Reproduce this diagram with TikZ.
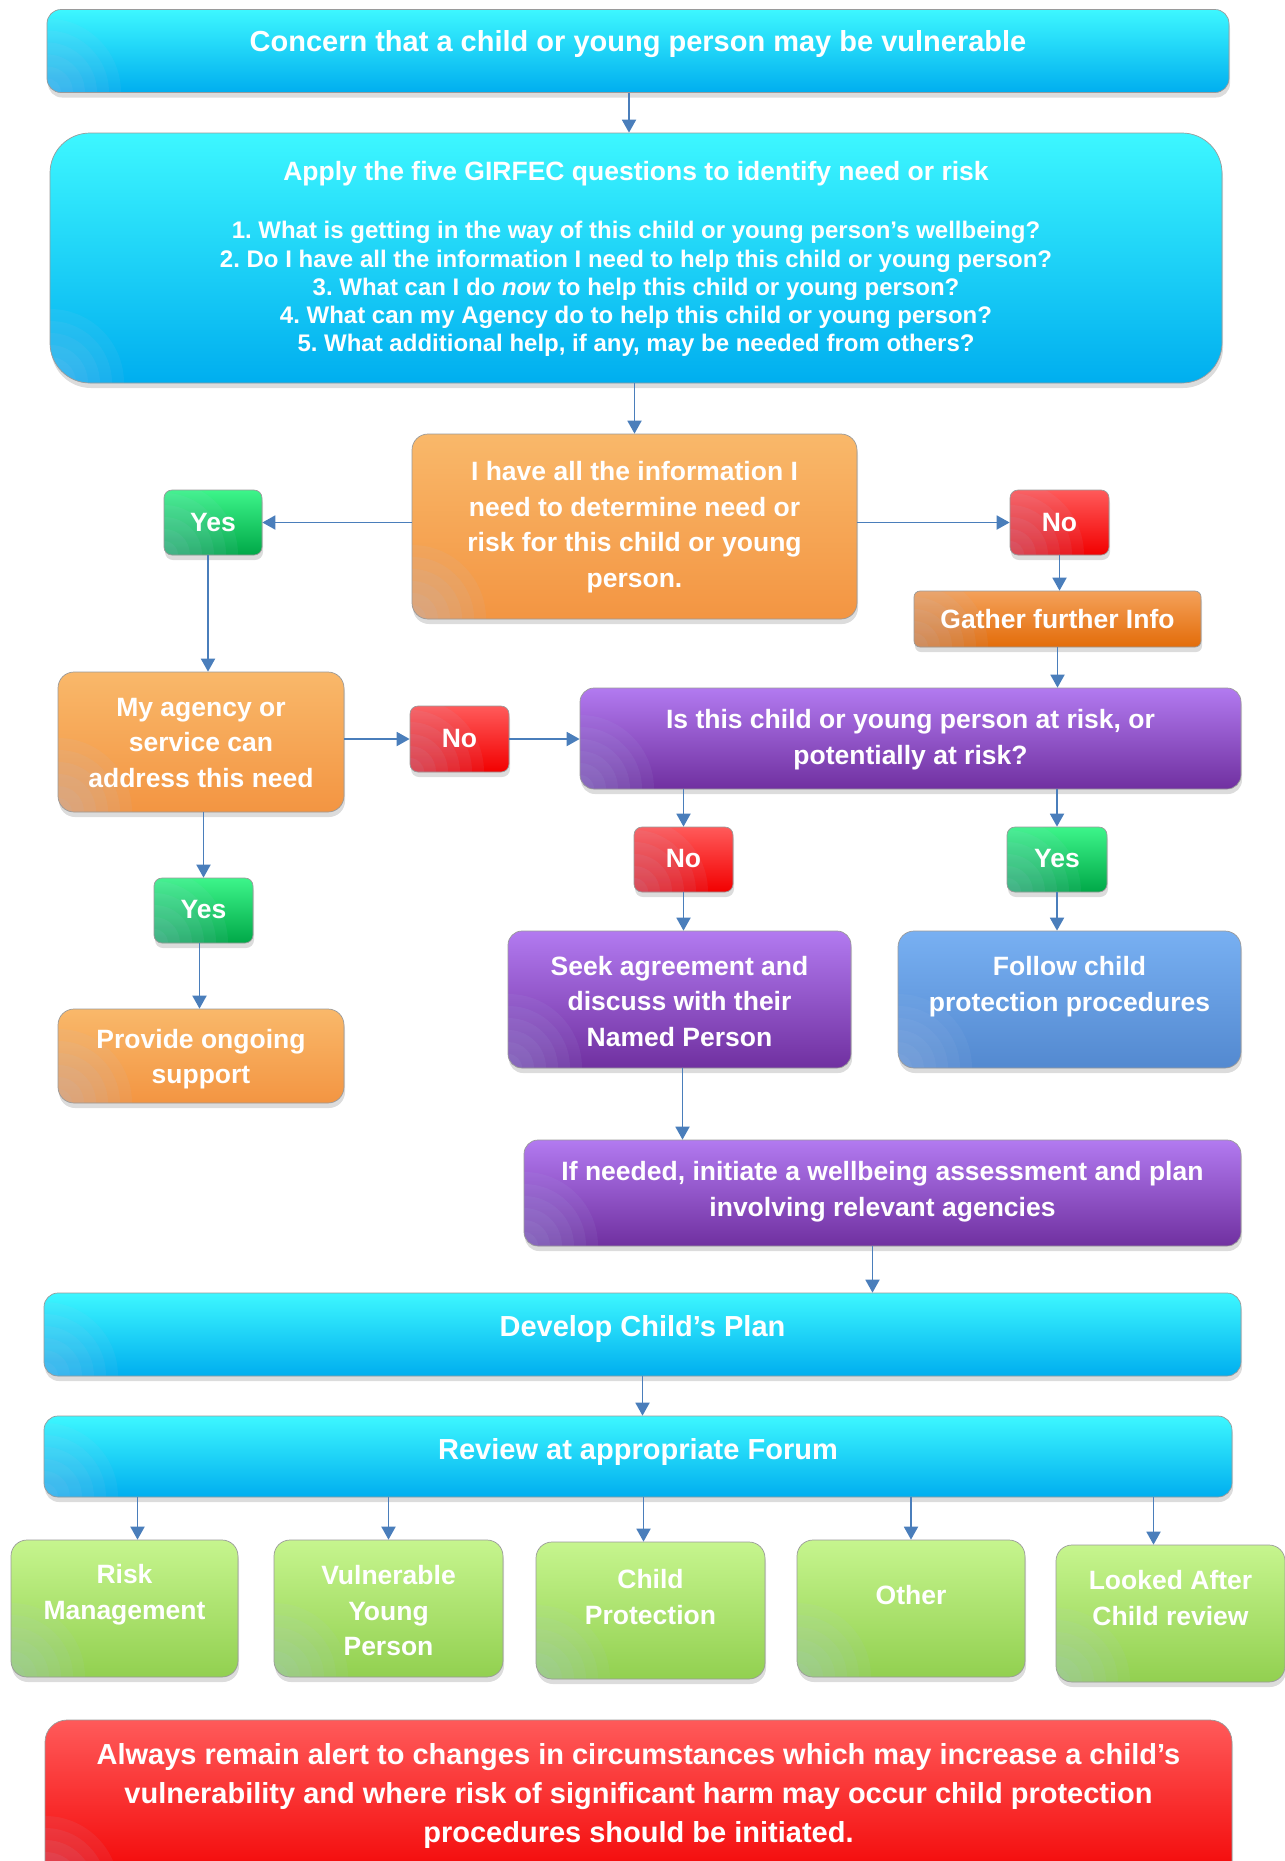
\documentclass[tikz,border=0pt]{standalone}
\usepackage{fontspec}
\setmainfont{Liberation Sans}
\usetikzlibrary{arrows.meta,shadows}
\frenchspacing
\definecolor{arrowc}{HTML}{4A7EBB}
\definecolor{cyanT}{HTML}{3DF7FF}\definecolor{cyanM}{HTML}{0DB8EE}\definecolor{cyanB}{HTML}{00AEEF}
\definecolor{orangeT}{HTML}{F9B86A}\definecolor{orangeM}{HTML}{F59D4B}\definecolor{orangeB}{HTML}{F39542}
\definecolor{gatherT}{HTML}{F4A15A}\definecolor{gatherM}{HTML}{E8730F}\definecolor{gatherB}{HTML}{E36C09}
\definecolor{redT}{HTML}{FF5A5A}\definecolor{redM}{HTML}{FF1010}\definecolor{redB}{HTML}{F20000}
\definecolor{greenT}{HTML}{3DF58A}\definecolor{greenM}{HTML}{05B652}\definecolor{greenB}{HTML}{00A848}
\definecolor{purpT}{HTML}{B27AF0}\definecolor{purpM}{HTML}{7B3AB0}\definecolor{purpB}{HTML}{7030A0}
\definecolor{blueT}{HTML}{78B0F2}\definecolor{blueM}{HTML}{5A93D8}\definecolor{blueB}{HTML}{5389D0}
\definecolor{lgreenT}{HTML}{C6F58E}\definecolor{lgreenM}{HTML}{9AD656}\definecolor{lgreenB}{HTML}{92D050}
\definecolor{cornerc}{HTML}{B4C8EE}
\definecolor{rimc}{HTML}{9A9A9A}
\tikzset{
  basebox/.style={rounded corners=#1, inner sep=0pt, draw=rimc, line width=0.7pt,
    drop shadow={opacity=0.28, shadow xshift=1pt, shadow yshift=-5pt},
    path picture={\foreach \r in {14,26,38,50,62,74}
      {\fill[cornerc, opacity=0.075] (path picture bounding box.south west) circle (\r pt);}}},
  cyanbox/.style={basebox=#1, top color=cyanT, middle color=cyanM, bottom color=cyanB},
  cyanbox/.default=14pt,
  orangebox/.style={basebox=16pt, top color=orangeT, middle color=orangeM, bottom color=orangeB},
  gatherbox/.style={basebox=6pt, top color=gatherT, middle color=gatherM, bottom color=gatherB},
  redbox/.style={basebox=#1, top color=redT, middle color=redM, bottom color=redB},
  redbox/.default=8pt,
  greenbox/.style={basebox=8pt, top color=greenT, middle color=greenM, bottom color=greenB},
  purpbox/.style={basebox=14pt, top color=purpT, middle color=purpM, bottom color=purpB},
  bluebox/.style={basebox=16pt, top color=blueT, middle color=blueM, bottom color=blueB},
  lgreenbox/.style={basebox=16pt, top color=lgreenT, middle color=lgreenM, bottom color=lgreenB},
  txt/.style={text=white, align=center, inner sep=0pt},
  fmain/.style={font=\fontsize{26.5}{35.5}\selectfont\bfseries},
  fbig/.style={font=\fontsize{29}{38.6}\selectfont\bfseries},
  flist/.style={font=\fontsize{24}{28.2}\selectfont\bfseries},
  arr/.style={draw=arrowc, line width=1.9pt, -{Triangle[length=13pt,width=14pt]}}
}
\newcommand\flowbox[9]{%
  \node[#2, minimum width=#5pt, minimum height=#6pt] (#1) at (#3,#4) {};
  \node[txt,#8] (#1t) at (#3,#7) {#9};}
\begin{document}
\begin{tikzpicture}[x=1pt,y=-1pt]
\useasboundingbox (0,0) rectangle (1285,1861);
% top
\flowbox{concern}{cyanbox}{638}{51}{1182}{83}{44.5}{fbig}{Concern that a child or young person may be vulnerable}
\node[cyanbox=40pt, minimum width=1172pt, minimum height=250pt] (girfec) at (636,258) {};
\node[txt,fmain] (girfect) at (636,174) {Apply the five GIRFEC questions to identify need or risk};
\node[txt,flist] (girfecl) at (636,289) {1. What is getting in the way of this child or young person’s wellbeing?\\
2. Do I have all the information I need to help this child or young person?\\
3. What can I do \textit{now} to help this child or young person?\\
4. What can my Agency do to help this child or young person?\\
5. What additional help, if any, may be needed from others?};
% decision
\flowbox{info}{orangebox}{634.5}{526.5}{445}{185}{527}{fmain}{I have all the information I\\need to determine need or\\risk for this child or young\\person.}
\flowbox{yesa}{greenbox}{213}{522.5}{98}{65}{522.5}{fmain}{Yes}
\flowbox{noa}{redbox}{1059.5}{522.5}{99}{65}{522.5}{fmain}{No}
\flowbox{gather}{gatherbox}{1057.5}{619}{287}{56}{619}{fmain}{Gather further Info}
\flowbox{agency}{orangebox}{201}{742}{286}{140}{743}{fmain}{My agency or\\service can\\address this need}
\flowbox{nob}{redbox}{459.5}{739}{99}{66}{739}{fmain}{No}
\flowbox{risk}{purpbox}{910.5}{738.5}{661}{101}{739.5}{fmain}{Is this child or young person at risk, or\\potentially at risk?}
\flowbox{noc}{redbox}{683.5}{859.5}{99}{65}{858.5}{fmain}{No}
\flowbox{yesb}{greenbox}{1057}{859.5}{100}{65}{858.5}{fmain}{Yes}
\flowbox{yesc}{greenbox}{203.5}{910.5}{99}{65}{909.5}{fmain}{Yes}
\flowbox{provide}{orangebox}{201}{1056}{286}{94}{1059}{fmain}{Provide ongoing\\support}
\flowbox{seek}{purpbox}{679.5}{999.5}{343}{137}{1001.5}{fmain}{Seek agreement and\\discuss with their\\Named Person}
\flowbox{follow}{bluebox}{1069.5}{999.5}{343}{137}{986.5}{fmain}{Follow child\\protection procedures}
\flowbox{ifneeded}{purpbox}{882.5}{1193}{717}{106}{1191.5}{fmain}{If needed, initiate a wellbeing assessment and plan\\involving relevant agencies}
\flowbox{develop}{cyanbox}{642.5}{1334.5}{1197}{83}{1329}{fbig}{Develop Child’s Plan}
\flowbox{review}{cyanbox}{638}{1456.5}{1188}{81}{1451.5}{fbig}{Review at appropriate Forum}
% forums
\flowbox{gra}{lgreenbox}{124.5}{1608.5}{227}{137}{1594.5}{fmain}{Risk\\Management}
\flowbox{grb}{lgreenbox}{388.5}{1608.5}{229}{137}{1611}{fmain}{Vulnerable\\Young\\Person}
\flowbox{grc}{lgreenbox}{650.5}{1610.5}{229}{137}{1597}{fmain}{Child\\Protection}
\flowbox{grd}{lgreenbox}{911}{1608.5}{228}{137}{1595.5}{fmain}{Other}
\flowbox{gre}{lgreenbox}{1170.5}{1613.5}{229}{137}{1598}{fmain}{Looked After\\Child review}
% warning
\flowbox{alert}{redbox=22pt}{638.5}{1805}{1187}{170}{1796}{fbig}{Always remain alert to changes in circumstances which may increase a child’s\\vulnerability and where risk of significant harm may occur child protection\\procedures should be initiated.}
% connectors
\draw[arr] ([xshift=-9pt]concern.south) -- ([xshift=-9pt]concern.south |- girfec.north);
\draw[arr] (girfec.south -| info.north) -- (info.north);
\draw[arr] (info.west |- yesa.east) -- (yesa.east);
\draw[arr] (info.east |- noa.west) -- (noa.west);
\draw[arr] (noa.south) -- (noa.south |- gather.north);
\draw[arr] (gather.south) -- (gather.south |- risk.north);
\draw[arr] ([xshift=-5pt]yesa.south) -- ([xshift=-5pt]yesa.south |- agency.north);
\draw[arr] (agency.east |- nob.west) -- (nob.west);
\draw[arr] (nob.east) -- (nob.east -| risk.west);
\draw[arr] (noc.north |- risk.south) -- (noc.north);
\draw[arr] (yesb.north |- risk.south) -- (yesb.north);
\draw[arr] (noc.south) -- (noc.south |- seek.north);
\draw[arr] (yesb.south) -- (yesb.south |- follow.north);
\draw[arr] (yesc.north |- agency.south) -- (yesc.north);
\draw[arr] ([xshift=-4pt]yesc.south) -- ([xshift=-4pt]yesc.south |- provide.north);
\draw[arr] ([xshift=3pt]seek.south) -- ([xshift=3pt]seek.south |- ifneeded.north);
\draw[arr] ([xshift=-10pt]ifneeded.south) -- ([xshift=-10pt]ifneeded.south |- develop.north);
\draw[arr] (develop.south) -- (develop.south |- review.north);
\draw[arr] ([xshift=13pt]gra.north |- review.south) -- ([xshift=13pt]gra.north);
\draw[arr] (grb.north |- review.south) -- (grb.north);
\draw[arr] ([xshift=-7pt]grc.north |- review.south) -- ([xshift=-7pt]grc.north);
\draw[arr] (grd.north |- review.south) -- (grd.north);
\draw[arr] ([xshift=-17pt]gre.north |- review.south) -- ([xshift=-17pt]gre.north);
\end{tikzpicture}
\end{document}
